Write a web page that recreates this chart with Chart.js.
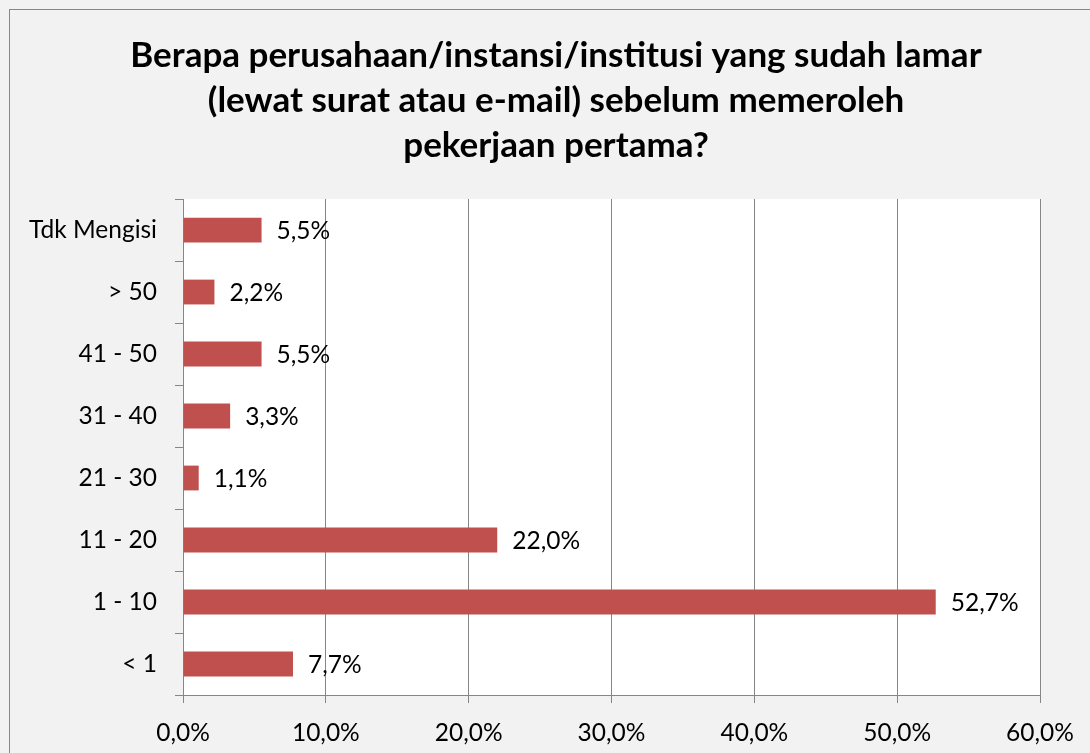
<!DOCTYPE html>
<html>
<head>
<meta charset="utf-8">
<script src="https://cdn.jsdelivr.net/npm/chart.js@4/dist/chart.umd.min.js"></script>
<style>
  html, body { margin: 0; padding: 0; background: #f2f2f2; }
  #wrap { position: absolute; left: 0; top: 0; width: 1090px; height: 753px; }
</style>
</head>
<body>
<div id="wrap"><canvas id="chart" width="1090" height="753"></canvas></div>
<script>
// categories, top to bottom
const categories = ['Tdk Mengisi', '> 50', '41 - 50', '31 - 40', '21 - 30', '11 - 20', '1 - 10', '< 1'];
// percentage of respondents
const percentValues = [5.5, 2.2, 5.5, 3.3, 1.1, 22.0, 52.7, 7.7];
const xTickValues = [0, 10, 20, 30, 40, 50, 60];
const titleLines = [
  'Berapa perusahaan/instansi/institusi yang sudah lamar',
  '(lewat surat atau e-mail) sebelum memeroleh',
  'pekerjaan pertama?'
];

const fontFamily = 'Lato, "Open Sans", sans-serif';
const gridColor = '#868686';

const fmt = (v) => v.toFixed(1).replace('.', ',') + '%';

// paint the grey chart background, outer frame and white plot area
const backgroundPlugin = {
  id: 'background',
  afterLayout(chart) {
    // centre the title a bit right of the canvas centre, like the original
    const t = chart.titleBlock;
    if (t) {
      t.left = 72;
      t.width = t.right - t.left;
    }
  },
  beforeDraw(chart) {
    const { ctx, chartArea } = chart;
    ctx.save();
    ctx.fillStyle = '#f2f2f2';
    ctx.fillRect(0, 0, chart.width, chart.height);
    ctx.strokeStyle = '#878787';
    ctx.lineWidth = 1;
    ctx.strokeRect(9.5, 9.5, chart.width + 20, chart.height + 20);
    ctx.fillStyle = '#ffffff';
    ctx.fillRect(chartArea.left, chartArea.top, chartArea.right - chartArea.left, chartArea.bottom - chartArea.top);
    ctx.restore();
  },
};

// value labels after the end of each bar
const valueLabelPlugin = {
  id: 'valueLabels',
  afterDatasetsDraw(chart) {
    const { ctx } = chart;
    const meta = chart.getDatasetMeta(0);
    ctx.save();
    ctx.font = '24.5px ' + fontFamily;
    ctx.fillStyle = '#000';
    ctx.textAlign = 'left';
    ctx.textBaseline = 'middle';
    meta.data.forEach((bar, i) => {
      ctx.fillText(fmt(percentValues[i]), bar.x + 15, bar.y + 1);
    });
    ctx.restore();
  },
};

new Chart(document.getElementById('chart'), {
  type: 'bar',
  data: {
    labels: categories,
    datasets: [{
      data: percentValues,
      backgroundColor: '#c0504d',
      borderWidth: 0,
      barPercentage: 0.4,
      categoryPercentage: 1,
    }],
  },
  options: {
    indexAxis: 'y',
    responsive: false,
    animation: false,
    layout: { padding: { top: 0, left: 0, right: 50, bottom: 0 } },
    plugins: {
      legend: { display: false },
      tooltip: { enabled: false },
      title: {
        display: true,
        text: titleLines,
        color: '#000',
        font: { family: fontFamily, size: 35, weight: 'bold', lineHeight: 1.286 },
        padding: { top: 33.5, bottom: 30.5 },
      },
    },
    scales: {
      x: {
        min: 0,
        max: 60,
        afterBuildTicks(scale) {
          scale.ticks = xTickValues.map((v) => ({ value: v }));
        },
        afterFit(scale) { scale.height = 58; },
        grid: { color: gridColor, tickLength: 8, drawTicks: true },
        border: { display: true, color: gridColor },
        ticks: {
          color: '#000',
          padding: 15,
          font: { family: fontFamily, size: 24.5 },
          callback: (v) => fmt(v),
        },
      },
      y: {
        afterFit(scale) { scale.width = 183; },
        grid: { color: gridColor, drawOnChartArea: false, drawTicks: true, tickLength: 8, offset: true },
        border: { display: true, color: gridColor },
        ticks: {
          color: '#000',
          padding: 18,
          font: { family: fontFamily, size: 24.5 },
        },
      },
    },
  },
  plugins: [backgroundPlugin, valueLabelPlugin],
});
</script>
</body>
</html>
